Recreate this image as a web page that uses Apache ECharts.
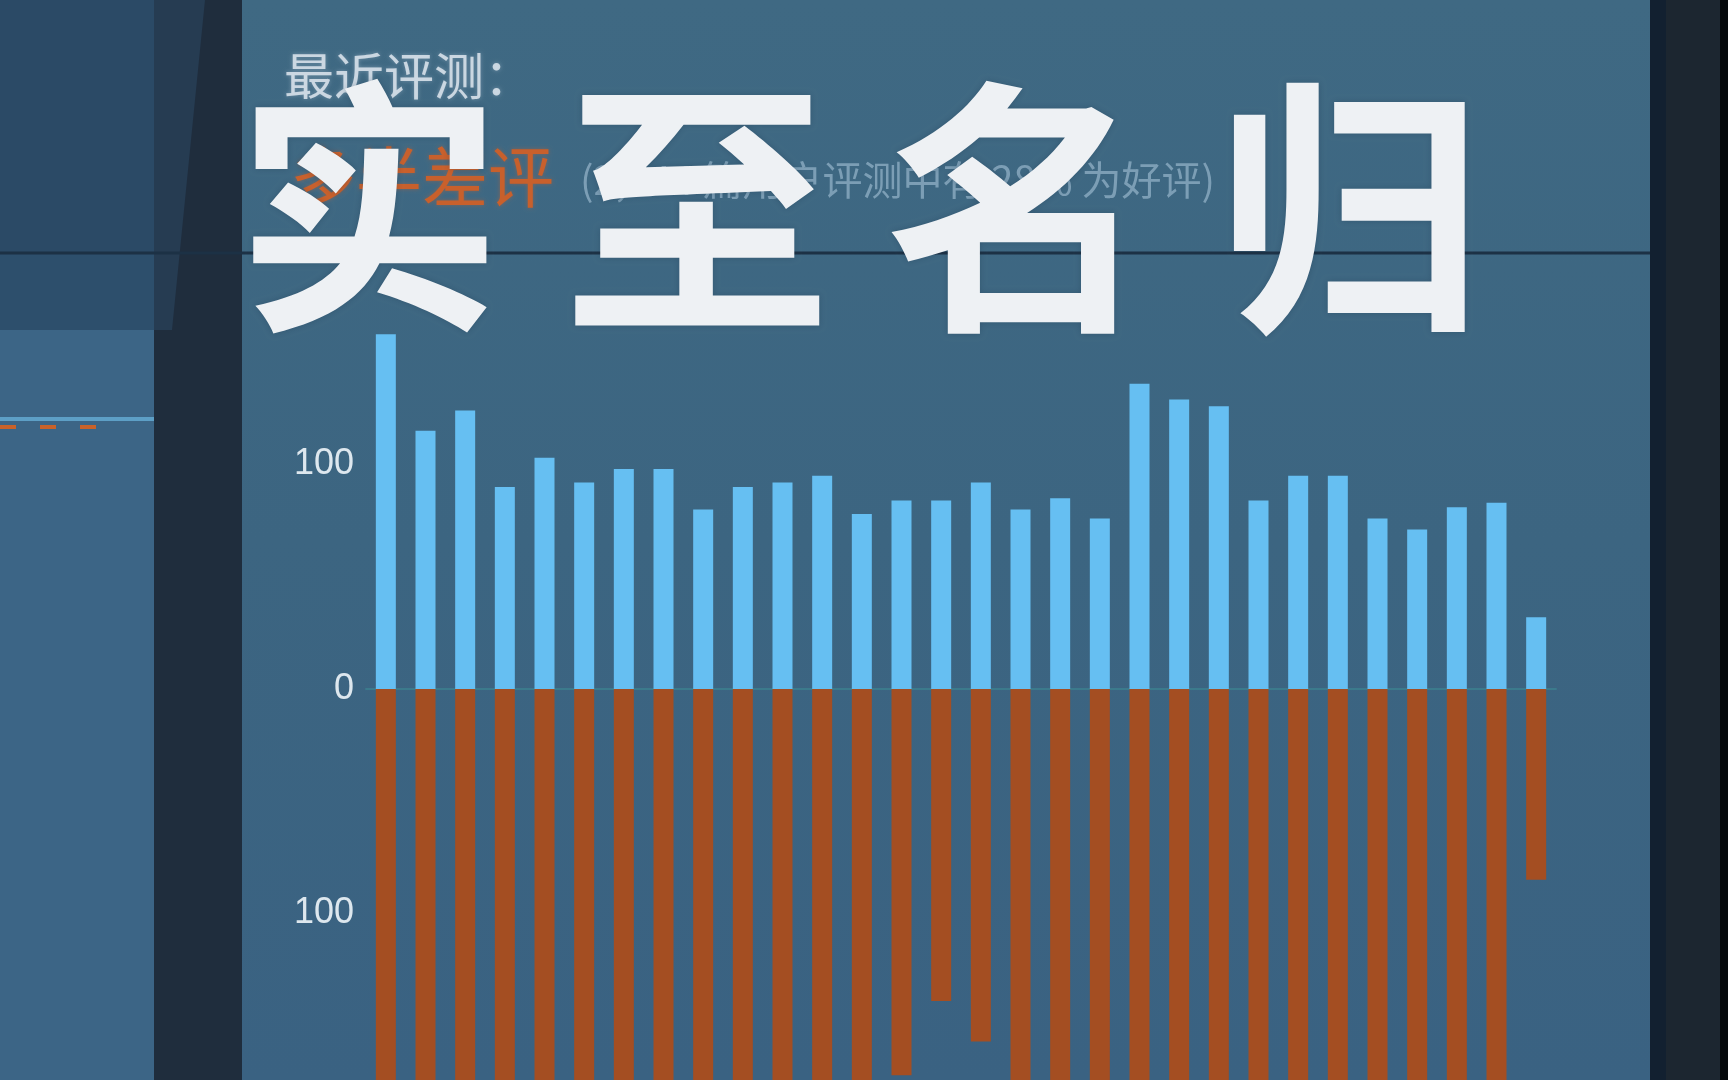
<!DOCTYPE html>
<html>
<head>
<meta charset="utf-8">
<script src="https://cdn.jsdelivr.net/npm/echarts@6/dist/echarts.min.js"></script>
<style>
html,body{margin:0;padding:0;background:#1c2630;}
#chart{width:1728px;height:1080px;}
</style>
</head>
<body>
<div id="chart"></div>
<script>
// ---- data ----
const categories = ['1','2','3','4','5','6','7','8','9','10','11','12','13','14','15',
  '16','17','18','19','20','21','22','23','24','25','26','27','28','29','30'];
const positiveValues = [158, 115, 124, 90, 103, 92, 98, 98, 80, 90, 92, 95, 78, 84, 84,
  92, 80, 85, 76, 136, 129, 126, 84, 95, 95, 76, 71, 81, 83, 32];
const negativeValues = [-240, -230, -250, -220, -235, -225, -240, -230, -180, -215, -220, -180, -200, -172, -139,
  -157, -230, -240, -225, -260, -255, -250, -230, -240, -235, -220, -215, -225, -230, -85];
const yTicks = { min: -300, max: 170, interval: 100 };
const headerLabel = '最近评测：';
const ratingLabel = '多半差评';
const ratingDetail = '(2,144 篇用户评测中有 28% 为好评)';
const overlayTitle = '实至名归';

// ---- layout ----
const W = 1728, H = 1080;
const zeroY = 689, pxPerUnit = 2.245;
const gridTop = zeroY - yTicks.max * pxPerUnit;
const gridHeight = (yTicks.max - yTicks.min) * pxPerUnit;

const chart = echarts.init(document.getElementById('chart'), null, {renderer: 'canvas'});

const titleCenters = [369, 697, 1018, 1350];
const titleGraphics = overlayTitle.split('').map((ch, i) => ({
  type: 'text',
  z: 100,
  x: titleCenters[i],
  y: 208,
  style: {
    text: ch,
    font: 'bold 268px "Noto Sans CJK SC"',
    align: 'center',
    verticalAlign: 'middle',
    fill: '#eef1f4',
    textShadowColor: 'rgba(20,40,60,0.25)',
    textShadowBlur: 6
  }
}));

const option = {
  backgroundColor: '#3c6581',
  animation: false,
  graphic: [
    {type: 'rect', z: -10, shape: {x: 242, y: 0, width: 1408, height: H},
      style: {fill: {type: 'linear', x: 0, y: 0, x2: 0, y2: 1, colorStops: [
        {offset: 0, color: '#3f6983'}, {offset: 0.5, color: '#3c6581'}, {offset: 1, color: '#3a6282'}]}}},
    {type: 'rect', z: -10, shape: {x: 0, y: 0, width: 160, height: 253}, style: {fill: '#2b4a66'}},
    {type: 'rect', z: -10, shape: {x: 0, y: 253, width: 160, height: 77}, style: {fill: '#2d4f6c'}},
    {type: 'rect', z: -10, shape: {x: 0, y: 330, width: 154, height: 750}, style: {fill: '#3c6586'}},
    {type: 'line', z: -9, shape: {x1: 0, y1: 419, x2: 154, y2: 419}, style: {stroke: '#5d9fc6', lineWidth: 4}},
    {type: 'line', z: -9, shape: {x1: 0, y1: 427, x2: 120, y2: 427}, style: {stroke: '#c8622a', lineWidth: 4, lineDash: [16, 24]}},
    {type: 'rect', z: -9, shape: {x: 154, y: 0, width: 88, height: H}, style: {fill: '#1f2d3d'}},
    {type: 'polygon', z: -9, shape: {points: [[154, 0], [205, 0], [172, 330], [154, 330]]}, style: {fill: '#263c52'}},
    {type: 'line', z: -8, shape: {x1: 0, y1: 253, x2: 1650, y2: 253}, style: {stroke: '#1c3145', lineWidth: 3}},
    {type: 'rect', z: -8, shape: {x: 1650, y: 0, width: 78, height: H}, style: {fill: '#1c2630'}},
    {type: 'rect', z: -8, shape: {x: 1650, y: 0, width: 16, height: H}, style: {fill: '#122030'}},
    {type: 'rect', z: -8, shape: {x: 1720, y: 0, width: 8, height: H}, style: {fill: '#05080b'}},
    {type: 'text', z: 5, x: 284, y: 76, style: {text: headerLabel, font: '50px "Noto Sans CJK SC"',
      fill: 'rgba(222,230,238,0.85)', verticalAlign: 'middle', textShadowColor: 'rgba(220,230,240,0.4)', textShadowBlur: 4}},
    {type: 'text', z: 5, x: 290, y: 177, style: {text: ratingLabel, font: '66px "Noto Sans CJK SC"',
      fill: '#c8602c', verticalAlign: 'middle', textShadowColor: 'rgba(200,96,44,0.5)', textShadowBlur: 4}},
    {type: 'text', z: 5, x: 580, y: 180, style: {text: ratingDetail, font: '40px "Noto Sans CJK SC"',
      fill: 'rgba(135,168,190,0.85)', verticalAlign: 'middle'}},
    ...titleGraphics
  ],
  grid: {left: 366, top: gridTop, width: 1556 - 366, height: gridHeight,
    containLabel: false, outerBoundsMode: 'none'},
  xAxis: {
    type: 'category',
    data: categories,
    axisLine: {show: true, onZero: true, lineStyle: {color: 'rgba(60,140,150,0.55)', width: 2}},
    axisTick: {show: false},
    axisLabel: {show: false},
    splitLine: {show: false}
  },
  yAxis: {
    type: 'value',
    min: yTicks.min, max: yTicks.max, interval: yTicks.interval,
    axisLine: {show: false}, axisTick: {show: false}, splitLine: {show: false},
    axisLabel: {
      show: true, showMaxLabel: false, showMinLabel: false, margin: 12,
      color: '#dde7ee', fontSize: 36, fontFamily: 'Arial, "Liberation Sans", sans-serif',
      formatter: v => String(Math.abs(v))
    }
  },
  series: [
    {type: 'bar', name: 'positive', stack: 'r', data: positiveValues, barWidth: 20,
      itemStyle: {color: '#66bff2'}},
    {type: 'bar', name: 'negative', stack: 'r', data: negativeValues, barWidth: 20,
      itemStyle: {color: '#a44e22'}}
  ]
};
chart.setOption(option);
</script>
</body>
</html>
